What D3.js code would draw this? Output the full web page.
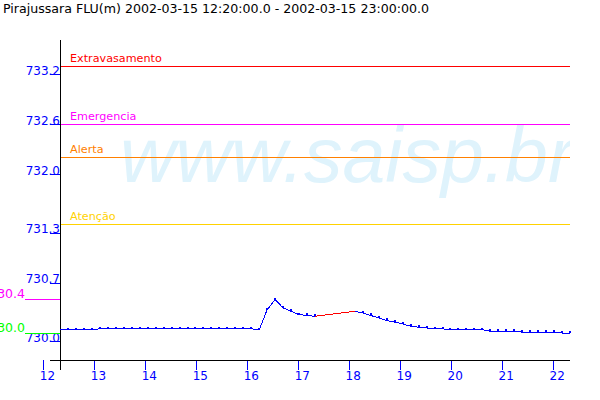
<!DOCTYPE html>
<html><head><meta charset="utf-8">
<script src="https://cdn.jsdelivr.net/npm/d3@7"></script>
<style>
html,body{margin:0;padding:0;background:#fff;}
svg{display:block;}
text{font-family:"DejaVu Sans",sans-serif;}
</style></head><body>
<svg id="c" width="600" height="400"></svg>
<script>
// ---------- data ----------
const titleText = "Pirajussara FLU(m) 2002-03-15 12:20:00.0 - 2002-03-15 23:00:00.0";
const watermarkText = "www.saisp.br";
const hourTicks = [12,13,14,15,16,17,18,19,20,21,22];
const levelTicks = [733.2, 732.6, 732.0, 731.3, 730.7, 730.0];
const levelTickLabels = ["733.2","732.6","732.0","731.3","730.7","730.0"];
const thresholdNames = ["Extravasamento","Emergencia","Alerta","Atenção"];
const thresholdValues = [733.2, 732.5, 732.1, 731.3];
const thresholdColors = ["#ff0000","#ff00ff","#ff8000","#ffd200"];

const times1 = ["12:20","12:30","12:40","12:50","13:00","13:10","13:20","13:30","13:40","13:50",
  "14:00","14:10","14:20","14:30","14:40","14:50","15:00","15:10","15:20","15:30","15:40","15:50",
  "16:00","16:10","16:20","16:30","16:40","16:50","17:00","17:10","17:20","17:30","17:40"];
const values1 = [730.04,730.04,730.04,730.04,730.04,730.05,730.05,730.05,730.05,730.05,
  730.05,730.05,730.05,730.05,730.05,730.05,730.05,730.05,730.05,730.05,730.05,730.05,
  730.05,730.05,730.05,730.04,730.28,730.40,730.30,730.26,730.22,730.21,730.20];

const gapTimes = ["17:40","18:30"];
const gapValues = [730.20, 730.26];

const times2 = ["18:30","18:40","18:50","19:00","19:10","19:20","19:30","19:40","19:50",
  "20:00","20:10","20:20","20:30","20:40","20:50","21:00","21:10","21:20","21:30","21:40","21:50",
  "22:00","22:10","22:20","22:30","22:40","22:50","23:00"];
const values2 = [730.26,730.24,730.21,730.18,730.15,730.13,730.11,730.08,730.07,
  730.06,730.05,730.05,730.04,730.04,730.04,730.04,730.04,730.02,730.02,730.02,730.02,
  730.01,730.01,730.01,730.01,730.01,730.00,730.00];

const maxLabel = "730.4", maxValue = 730.40;
const minLabel = "730.0", minValue = 730.00;

// ---------- scales ----------
const parseT = s => { const [h,m] = s.split(":").map(Number); return new Date(2002, 2, 15, h, m); };
const x = d3.scaleTime().domain([parseT("12:20"), parseT("23:00")]).range([60, 570]);
const xTick = d3.scaleLinear().domain([12, 22]).range([43.3, 553]);
const y = d3.scaleLinear().domain([730, 733.2]).range([333, 66]);
const yTick = d3.scaleLinear().domain([730, 733.2]).range([341, 74]);
const px = v => Math.floor(v) + 0.5;

const svg = d3.select("#c");

svg.append("defs").append("clipPath").attr("id","plot")
  .append("rect").attr("x",60).attr("y",40).attr("width",510).attr("height",320);

// watermark
svg.append("g").attr("clip-path","url(#plot)")
  .append("text").attr("x",120).attr("y",182)
  .style("font-family","'Liberation Sans',Arial,sans-serif")
  .style("font-style","italic").style("font-size","77px")
  .attr("fill","#dff3fc").text(watermarkText);

// title
svg.append("text").attr("x",3).attr("y",13).style("font-size","12.6px")
  .attr("fill","#000").text(titleText);

// thresholds
const th = svg.append("g");
thresholdValues.forEach((v,i)=>{
  th.append("line").attr("x1",60).attr("x2",570).attr("y1",px(y(v))).attr("y2",px(y(v)))
    .attr("stroke",thresholdColors[i]).attr("stroke-width",1);
  th.append("text").attr("x",70).attr("y",Math.floor(y(v))-4).style("font-size","11.2px")
    .attr("fill",thresholdColors[i]).text(thresholdNames[i]);
});

// x axis ticks
const gx = svg.append("g").attr("transform","translate(0,360)")
  .call(d3.axisBottom(xTick).tickValues(hourTicks).tickSize(10).tickSizeOuter(0).tickFormat(d3.format("d")));
gx.select(".domain").remove();
gx.selectAll(".tick line").attr("stroke","#0000ff").attr("shape-rendering","crispEdges");
gx.selectAll(".tick text").attr("fill","#0000ff").attr("y",20).attr("dy",null).attr("x",-4)
  .attr("text-anchor","start").style("font-size","12px").style("font-family","'DejaVu Sans',sans-serif");

// y axis ticks
const gy = svg.append("g").attr("transform","translate(60,0)")
  .call(d3.axisLeft(yTick).tickValues(levelTicks).tickSize(10).tickSizeOuter(0)
    .tickFormat((d,i)=>levelTickLabels[i]));
gy.select(".domain").remove();
gy.selectAll(".tick line").attr("stroke","#0000ff").attr("shape-rendering","crispEdges");
gy.selectAll(".tick text").attr("fill","#0000ff").attr("x",0).attr("dy",null).attr("y",0)
  .attr("text-anchor","end").style("font-size","12px").style("font-family","'DejaVu Sans',sans-serif");

// axis lines
svg.append("line").attr("x1",60.5).attr("x2",60.5).attr("y1",40).attr("y2",370)
  .attr("stroke","#000");
svg.append("line").attr("x1",50).attr("x2",570).attr("y1",360.5).attr("y2",360.5)
  .attr("stroke","#000");

// max / min markers on the left
[[maxLabel,maxValue,"#ff00ff"],[minLabel,minValue,"#00ff00"]].forEach(([lab,v,c])=>{
  svg.append("line").attr("x1",25).attr("x2",60).attr("y1",px(y(v))).attr("y2",px(y(v)))
    .attr("stroke",c);
  svg.append("text").attr("x",25).attr("y",Math.floor(y(v))-1.5).attr("text-anchor","end")
    .style("font-size","12.5px").attr("fill",c).text(lab);
});

// data
const line = d3.line().x(d=>x(d.t)).y(d=>y(d.v));
const s1 = times1.map((t,i)=>({t:parseT(t), v:values1[i]}));
const s2 = times2.map((t,i)=>({t:parseT(t), v:values2[i]}));
const sg = gapTimes.map((t,i)=>({t:parseT(t), v:gapValues[i]}));

[s1,s2].forEach(s=>{
  svg.append("path").datum(s).attr("d",line).attr("fill","none")
    .attr("stroke","#0000ff").attr("stroke-width",1).attr("shape-rendering","crispEdges");
  svg.append("g").selectAll("rect").data(s.slice(1)).join("rect")
    .attr("x",d=>Math.round(x(d.t))-1).attr("y",d=>Math.round(y(d.v))-2).attr("width",2).attr("height",2)
    .attr("fill","#0000ff");
});
svg.append("path").datum(sg).attr("d",line).attr("fill","none")
  .attr("stroke","#ff0000").attr("stroke-width",1).attr("shape-rendering","crispEdges");
</script>
</body></html>
